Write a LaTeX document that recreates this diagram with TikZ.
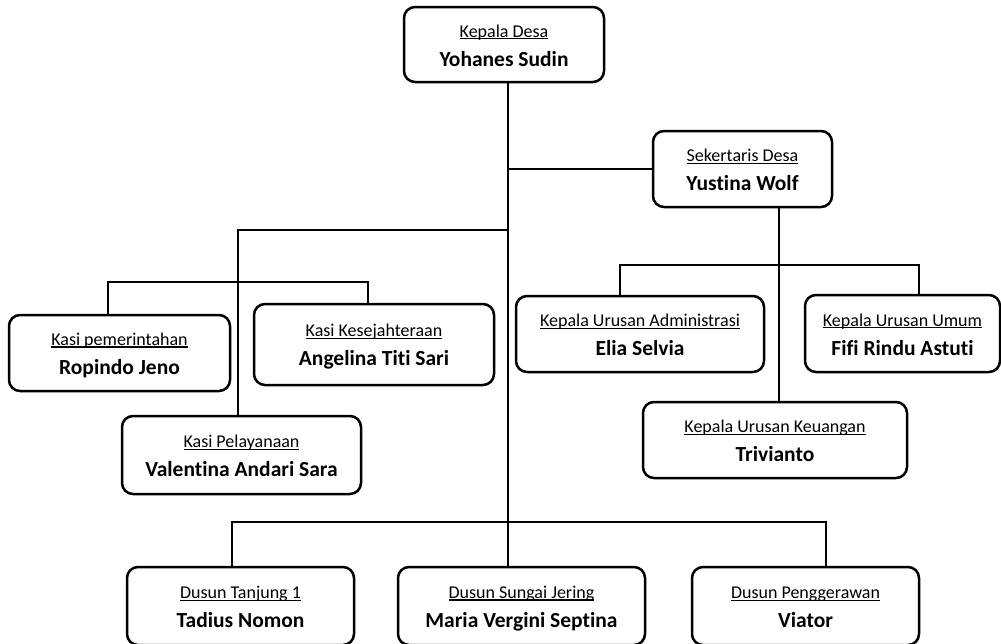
\documentclass[tikz,border=0pt]{standalone}
\usepackage{fontspec}
\setmainfont{Carlito}[Ligatures=NoCommon,RawFeature={-liga;-clig}]
\newcommand\ttlline[1]{\setbox0\hbox{#1}\rlap{\rule[-2.4pt]{\wd0}{1.3pt}}\box0}
\newcommand\boxtext[2]{\rule{0pt}{17pt}\ttlline{#1}\\\fontsize{21.5}{29}\selectfont\bfseries #2\rule[-3pt]{0pt}{3pt}}
\tikzset{
  box/.style={draw, line width=2.5pt, rounded corners=11pt, inner sep=0pt, align=center,
    font=\fontsize{18}{29}\selectfont},
  conn/.style={line width=1.3pt},
}
\begin{document}
\begin{tikzpicture}[x=1pt,y=-1pt]
\useasboundingbox (0,0) rectangle (1001,643);
\node[box, minimum width=200pt, minimum height=75pt] (kd) at (504,44.5) {\boxtext{Kepala Desa}{Yohanes Sudin}};
\node[box, minimum width=179pt, minimum height=76pt] (sd) at (742.5,169) {\boxtext{Sekertaris Desa}{Yustina Wolf}};
\node[box, minimum width=221pt, minimum height=76pt] (kp) at (119.5,353) {\boxtext{Kasi pemerintahan}{Ropindo Jeno}};
\node[box, minimum width=240pt, minimum height=81pt] (kk) at (374,344.5) {\boxtext{Kasi Kesejahteraan}{Angelina Titi Sari}};
\node[box, minimum width=239pt, minimum height=78pt] (kpl) at (241.5,455) {\boxtext{Kasi Pelayanaan}{Valentina Andari Sara}};
\node[box, minimum width=248pt, minimum height=76pt] (ka) at (640,334) {\boxtext{Kepala Urusan Administrasi}{Elia Selvia}};
\node[box, minimum width=195pt, minimum height=77pt] (ku) at (902.5,333.5) {\boxtext{Kepala Urusan Umum}{Fifi Rindu Astuti}};
\node[box, minimum width=264pt, minimum height=76pt] (kuk) at (775,440) {\boxtext{Kepala Urusan Keuangan}{Trivianto}};
\node[box, minimum width=227pt, minimum height=78pt] (dt) at (240.5,606) {\boxtext{Dusun Tanjung 1}{Tadius Nomon}};
\node[box, minimum width=247pt, minimum height=78pt] (dm) at (521.5,606) {\boxtext{Dusun Sungai Jering}{Maria Vergini Septina}};
\node[box, minimum width=227pt, minimum height=78pt] (dv) at (805.5,606) {\boxtext{Dusun Penggerawan}{Viator}};
\coordinate (sp) at (508,0);
\draw[conn] (kd.south -| sp) -- (dm.north -| sp);
\draw[conn] (sd.west) -- (sd.west -| sp);
\coordinate (lb) at (238,230);
\draw[conn] (lb -| sp) -- (lb) -- (kpl.north -| lb);
\coordinate (kbl) at (108,282);
\coordinate (kbr) at (368,282);
\draw[conn] (kp.north -| kbl) -- (kbl) -- (kbr) -- (kk.north -| kbr);
\coordinate (sv) at (779,265);
\draw[conn] (sd.south -| sv) -- (kuk.north -| sv);
\coordinate (ual) at (620,265);
\coordinate (uar) at (919,265);
\draw[conn] (ka.north -| ual) -- (ual) -- (uar) -- (ku.north -| uar);
\coordinate (dl) at (232,522);
\coordinate (dr) at (826,522);
\draw[conn] (dt.north -| dl) -- (dl) -- (dr) -- (dv.north -| dr);
\end{tikzpicture}
\end{document}
